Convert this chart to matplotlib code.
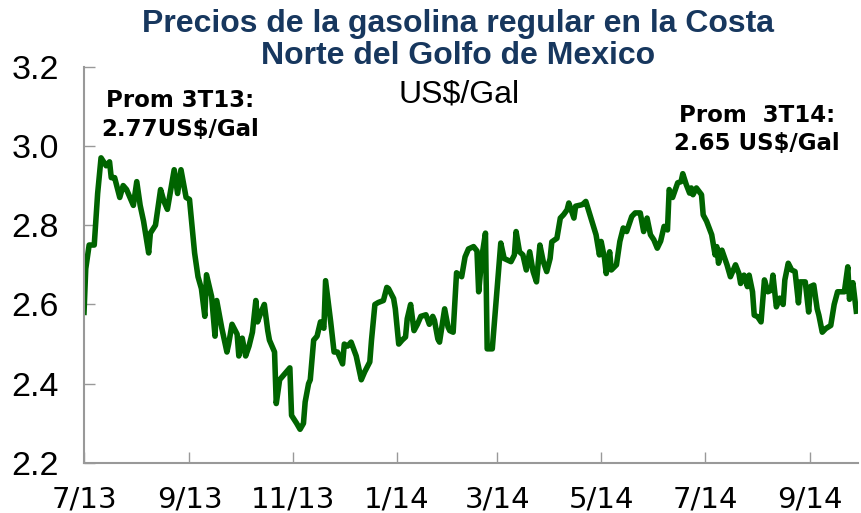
import pandas as pd
import matplotlib
matplotlib.use('Agg')
import matplotlib.pyplot as plt

# days since 2013-07-01 and price (US$/Gal)
days = [0, 1, 3, 6, 8, 10, 13, 15, 16, 18, 21, 23, 25, 27, 29, 31, 33, 35, 38, 39,
        42, 45, 47, 49, 51, 53, 55, 57, 60, 62, 65, 67, 69, 71, 72, 75, 77, 78,
        81, 84, 85, 87, 90, 91, 93, 95, 97, 99, 101, 102, 104, 106, 108, 109,
        112, 113, 115, 117, 119, 121, 122, 125, 127, 129, 130, 132, 133, 135,
        137, 139, 141, 142, 145, 147, 149, 151, 152, 153, 155, 157, 160, 163,
        165, 168, 169, 171, 173, 176, 178, 179, 182, 183, 185, 187, 189, 190,
        192, 194, 196, 198, 201, 203, 205, 206, 208, 209, 212, 214, 215, 217,
        219, 222, 224, 226, 229, 231, 232, 234, 236, 237, 240, 243, 245, 247,
        249, 251, 253, 254, 256, 258, 260, 262, 264, 266, 268, 270, 272, 274,
        275, 278, 280, 282, 284, 285, 288, 289, 293, 295, 298, 301, 303, 304,
        306, 307, 309, 310, 313, 315, 317, 319, 322, 324, 327, 329, 331, 333,
        335, 337, 339, 341, 343, 344, 346, 349, 351, 352, 354, 356, 357, 358,
        360, 363, 364, 366, 369, 371, 372, 373, 375, 378, 380, 383, 385, 386,
        388, 390, 391, 393, 394, 396, 398, 400, 402, 404, 405, 407, 409, 411,
        412, 414, 416, 418, 420, 421, 424, 426, 427, 429, 431, 432, 434, 436,
        439, 441, 443, 445, 447, 449, 450, 452, 454]
prices = [2.58, 2.69, 2.75, 2.75, 2.88, 2.97, 2.95, 2.96, 2.92, 2.92, 2.87, 2.90,
          2.89, 2.87, 2.85, 2.91, 2.85, 2.81, 2.73, 2.78, 2.80, 2.89, 2.86, 2.84,
          2.89, 2.94, 2.88, 2.94, 2.87, 2.865, 2.73, 2.67, 2.64, 2.57, 2.675, 2.62,
          2.52, 2.61, 2.54, 2.48, 2.50, 2.55, 2.525, 2.47, 2.515, 2.47, 2.495,
          2.53, 2.61, 2.556, 2.58, 2.60, 2.534, 2.51, 2.48, 2.35, 2.41, 2.42,
          2.43, 2.44, 2.32, 2.30, 2.285, 2.30, 2.354, 2.40, 2.41, 2.51, 2.52,
          2.556, 2.54, 2.66, 2.556, 2.48, 2.48, 2.46, 2.45, 2.50, 2.495, 2.505,
          2.47, 2.41, 2.43, 2.455, 2.51, 2.60, 2.605, 2.61, 2.643, 2.64, 2.615,
          2.589, 2.50, 2.51, 2.518, 2.564, 2.60, 2.534, 2.55, 2.57, 2.574, 2.55,
          2.57, 2.56, 2.513, 2.505, 2.589, 2.543, 2.534, 2.53, 2.68, 2.67, 2.72,
          2.74, 2.746, 2.735, 2.632, 2.724, 2.78, 2.488, 2.488, 2.649, 2.755,
          2.716, 2.712, 2.708, 2.725, 2.784, 2.733, 2.725, 2.687, 2.733, 2.683,
          2.657, 2.75, 2.708, 2.683, 2.716, 2.758, 2.767, 2.818, 2.827, 2.839,
          2.856, 2.818, 2.848, 2.852, 2.86, 2.818, 2.776, 2.725, 2.759, 2.716,
          2.678, 2.733, 2.687, 2.70, 2.759, 2.793, 2.784, 2.822, 2.831, 2.831,
          2.784, 2.818, 2.776, 2.763, 2.742, 2.76, 2.797, 2.788, 2.89, 2.87,
          2.907, 2.91, 2.93, 2.903, 2.881, 2.894, 2.877, 2.894, 2.877, 2.826,
          2.81, 2.776, 2.725, 2.746, 2.704, 2.737, 2.70, 2.67, 2.70, 2.678,
          2.653, 2.674, 2.645, 2.674, 2.632, 2.573, 2.569, 2.556, 2.662, 2.632,
          2.636, 2.674, 2.594, 2.616, 2.60, 2.662, 2.704, 2.687, 2.683, 2.604,
          2.657, 2.657, 2.581, 2.645, 2.649, 2.589, 2.573, 2.53, 2.539, 2.547,
          2.60, 2.632, 2.632, 2.632, 2.695, 2.613, 2.655, 2.583]

tick_dates = ['2013-07-01', '2013-09-01', '2013-11-01', '2014-01-01',
              '2014-03-01', '2014-05-01', '2014-07-01', '2014-09-01']
tick_labels = ['7/13', '9/13', '11/13', '1/14', '3/14', '5/14', '7/14', '9/14']
y_ticks = [2.2, 2.4, 2.6, 2.8, 3.0, 3.2]

dates = pd.Timestamp('2013-07-01') + pd.to_timedelta(days, unit='D')

fig = plt.figure(figsize=(8.61, 5.13), dpi=100)
ax = fig.add_axes([0.0976, 0.0975, 0.8989, 0.7725])

ax.plot(dates, prices, color='#006400', linewidth=4.0, solid_joinstyle='round')

ax.set_xlim(pd.Timestamp('2013-07-01'), pd.Timestamp('2014-09-29'))
ax.set_ylim(2.2, 3.2)
ax.set_xticks(pd.to_datetime(tick_dates))
ax.set_xticklabels(tick_labels, fontsize=21, family='Liberation Sans Narrow')
ax.set_yticks(y_ticks)
ax.set_yticklabels(['%.1f' % v for v in y_ticks], fontsize=24.5,
                   family='Liberation Sans')
ax.tick_params(axis='both', direction='in', length=8, color='#999999', width=1)
ax.tick_params(axis='x', pad=16)
ax.tick_params(axis='y', pad=18)

for side in ['top', 'right']:
    ax.spines[side].set_visible(False)
for side in ['left', 'bottom']:
    ax.spines[side].set_color('#999999')
    ax.spines[side].set_linewidth(1.5)

fig.text(0.532, 0.922, 'Precios de la gasolina regular en la Costa\nNorte del Golfo de Mexico',
         ha='center', va='center', fontsize=23, fontweight='bold', color='#17375E',
         family='Liberation Sans', linespacing=1.05)
fig.text(0.533, 0.815, 'US$/Gal', ha='center', va='center', fontsize=23,
         family='Liberation Sans')
fig.text(0.209, 0.776, 'Prom 3T13:\n2.77US$/Gal', ha='center', va='center',
         fontsize=16.5, fontweight='bold', family='DejaVu Sans', linespacing=1.3)
fig.text(0.879, 0.747, 'Prom  3T14:\n2.65 US$/Gal', ha='center', va='center',
         fontsize=16.5, fontweight='bold', family='DejaVu Sans', linespacing=1.3)

fig.savefig('out.png', dpi=100)
